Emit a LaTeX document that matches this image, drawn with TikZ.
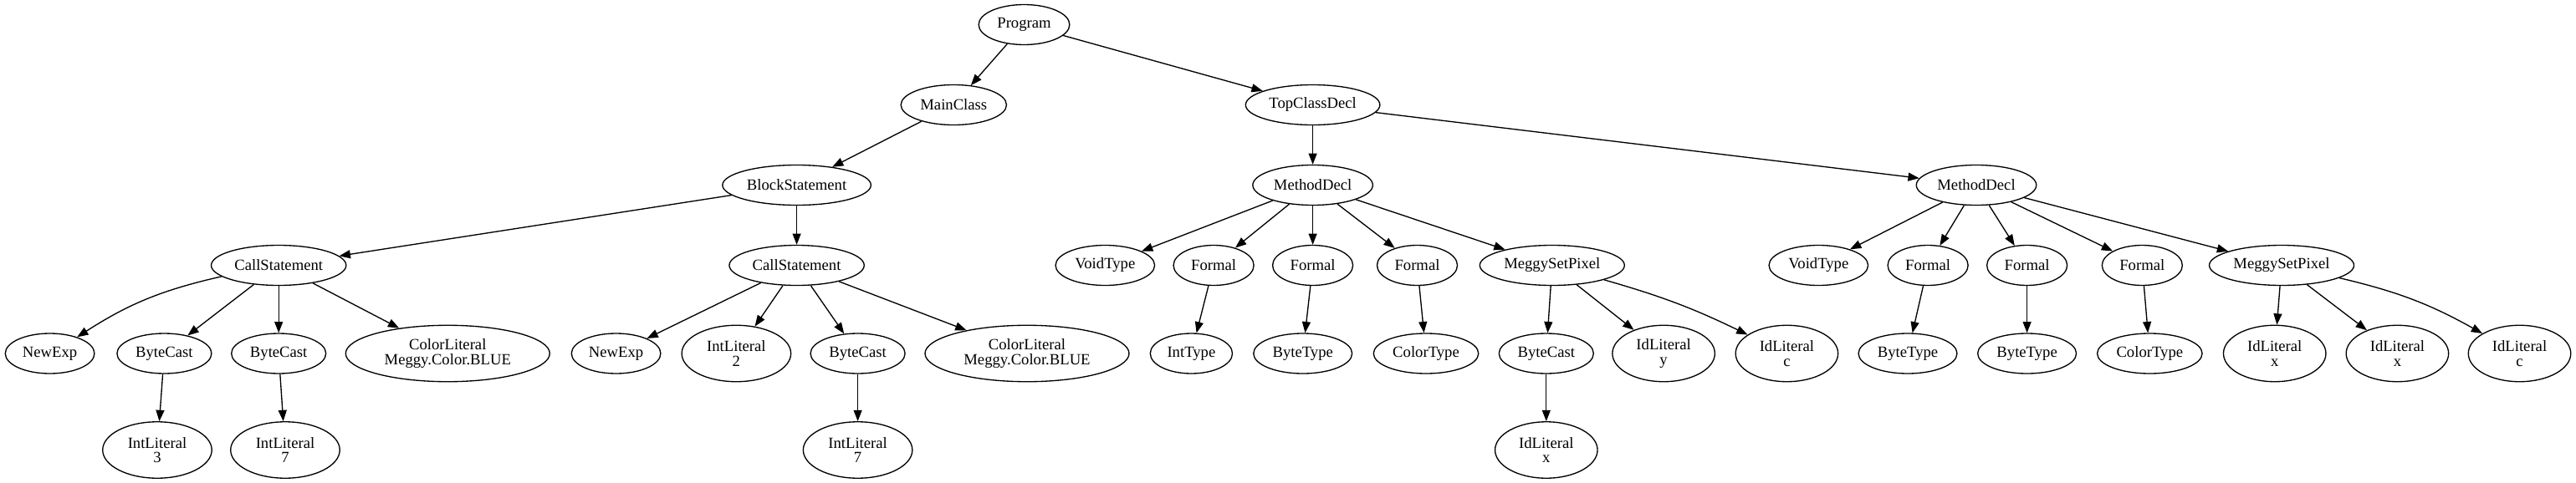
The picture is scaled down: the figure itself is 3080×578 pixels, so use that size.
\documentclass[tikz,border=0pt]{standalone}
\usepackage{fontspec}
\setmainfont{Liberation Serif}
\usetikzlibrary{shapes.geometric,arrows.meta}
\tikzset{>={Triangle[length=10pt,width=7.5pt]}}
\tikzset{
  ast/.style={draw,ellipse,line width=1pt,inner sep=0pt,minimum height=36pt,
    font=\fontsize{14pt}{13pt}\selectfont},
  ew/.style={minimum width=#1*0.75pt},
  twoline/.style={align=center,minimum height=50.6pt},
  edge/.style={->,line width=1pt}
}

\begin{document}
\begin{tikzpicture}[x=0.75pt,y=-0.75pt]
    \useasboundingbox (0,0) rectangle (3080,578);
    \node[ast,ew=108.7] (prog) at (1224.5,29.5) {Program};
    \node[ast,ew=126.3] (main) at (1140.3,125.5) {MainClass};
    \node[ast,ew=160.6] (top) at (1569.6,125.5) {TopClassDecl};
    \node[ast,ew=177.5] (block) at (952.6,221.5) {BlockStatement};
    \node[ast,ew=143.5] (mda) at (1569.6,221.5) {MethodDecl};
    \node[ast,ew=143.5] (mdb) at (2363,221.5) {MethodDecl};
    % row 4
    \node[ast,ew=161.3] (csa) at (333.2,317.5) {CallStatement};
    \node[ast,ew=161.3] (csb) at (952.6,317.5) {CallStatement};
    \node[ast,ew=118.5] (vta) at (1321.3,317.5) {VoidType};
    \node[ast,ew=96] (fa) at (1451.1,317.5) {Formal};
    \node[ast,ew=96] (fb) at (1569.6,317.5) {Formal};
    \node[ast,ew=96] (fc) at (1694.5,317.5) {Formal};
    \node[ast,ew=173] (pxa) at (1855.8,317.5) {MeggySetPixel};
    \node[ast,ew=118.5] (vtb) at (2174.3,317.5) {VoidType};
    \node[ast,ew=96] (fd) at (2305.1,317.5) {Formal};
    \node[ast,ew=96] (fe) at (2423.6,317.5) {Formal};
    \node[ast,ew=96] (ff) at (2561.3,317.5) {Formal};
    \node[ast,ew=173] (pxb) at (2728,317.5) {MeggySetPixel};
    % row 5
    \node[ast,ew=106.6] (nea) at (59.6,423) {NewExp};
    \node[ast,ew=113] (bca) at (196.4,423) {ByteCast};
    \node[ast,ew=113] (bcb) at (333.2,423) {ByteCast};
    \node[ast,twoline,ew=244] (cla) at (535.3,423) {ColorLiteral\\Meggy.Color.BLUE};
    \node[ast,ew=106.6] (neb) at (736.6,423) {NewExp};
    \node[ast,twoline,ew=130.5] (ilb) at (880.4,423) {IntLiteral\\2};
    \node[ast,ew=113] (bcc) at (1025.6,423) {ByteCast};
    \node[ast,twoline,ew=244] (clb) at (1228,423) {ColorLiteral\\Meggy.Color.BLUE};
    \node[ast,ew=98.2] (ita) at (1424.4,423) {IntType};
    \node[ast,ew=117.9] (bta) at (1557.7,423) {ByteType};
    \node[ast,ew=125.5] (cta) at (1705,423) {ColorType};
    \node[ast,ew=113] (bcd) at (1848.8,423) {ByteCast};
    \node[ast,twoline,ew=122.5] (idy) at (1989.1,423) {IdLiteral\\y};
    \node[ast,twoline,ew=122.5] (idc) at (2136.4,423) {IdLiteral\\c};
    \node[ast,ew=117.9] (btb) at (2281,423) {ByteType};
    \node[ast,ew=117.9] (btc) at (2423.6,423) {ByteType};
    \node[ast,ew=125.5] (ctb) at (2570.3,423) {ColorType};
    \node[ast,twoline,ew=122.5] (idxb) at (2719.7,423) {IdLiteral\\x};
    \node[ast,twoline,ew=122.5] (idxc) at (2866.4,423) {IdLiteral\\x};
    \node[ast,twoline,ew=122.5] (idcb) at (3012.5,423) {IdLiteral\\c};
    % row 6
    \node[ast,twoline,ew=130.5] (ilc) at (188,538.5) {IntLiteral\\3};
    \node[ast,twoline,ew=130.5] (ild) at (341,538.5) {IntLiteral\\7};
    \node[ast,twoline,ew=130.5] (ile) at (1025.6,538.5) {IntLiteral\\7};
    \node[ast,twoline,ew=122.5] (idxa) at (1848.8,538.5) {IdLiteral\\x};

    \foreach \a/\b in {prog/main,prog/top,main/block,block/csa,block/csb,
        csa/bca,csa/bcb,csa/cla,bca/ilc,bcb/ild,
        csb/neb,csb/ilb,csb/bcc,csb/clb,bcc/ile,
        top/mda,top/mdb,mda/vta,mda/fa,mda/fb,mda/fc,mda/pxa,
        fa/ita,fb/bta,fc/cta,pxa/bcd,pxa/idy,bcd/idxa,
        mdb/vtb,mdb/fd,mdb/fe,mdb/ff,mdb/pxb,
        fd/btb,fe/btc,ff/ctb,pxb/idxb,pxb/idxc}
      \draw[edge] (\a) -- (\b);
    \draw[edge] (csa) to[bend right=10] (nea);
    \draw[edge] (pxa) to[bend left=5] (idc);
    \draw[edge] (pxb) to[bend left=8] (idcb);
  \end{tikzpicture}
\end{document}
